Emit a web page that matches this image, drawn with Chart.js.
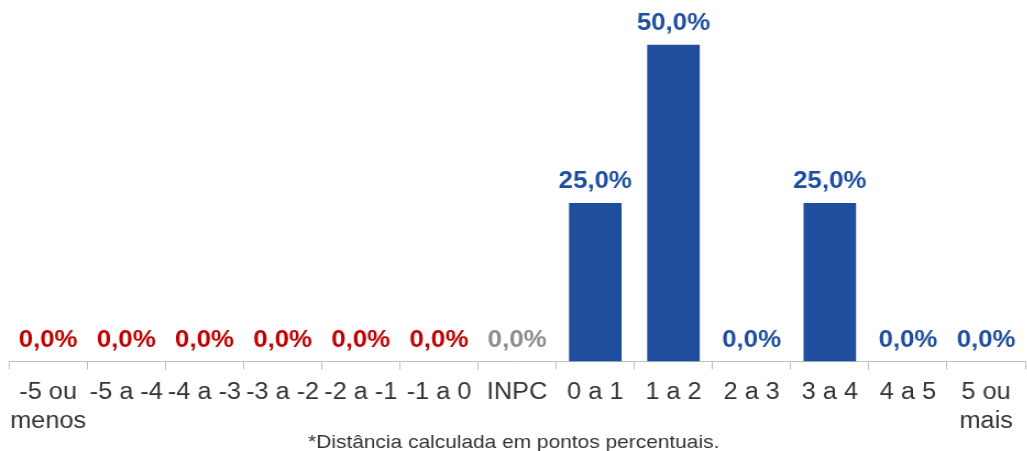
<!DOCTYPE html>
<html>
<head>
<meta charset="utf-8">
<script src="https://cdn.jsdelivr.net/npm/chart.js@4/dist/chart.umd.min.js"></script>
<style>
  html, body { margin: 0; padding: 0; background: #fff; overflow: hidden; }
  /* the source picture is a little wider than tall, so stretch horizontally */
  #wrap { width: 934px; height: 451px; transform: scaleX(1.1); transform-origin: 0 0; }
</style>
</head>
<body>
<div id="wrap"><canvas id="chart"></canvas></div>
<script>
const categories = [['-5 ou', 'menos'], '-5 a -4', '-4 a -3', '-3 a -2', '-2 a -1', '-1 a 0', 'INPC',
  '0 a 1', '1 a 2', '2 a 3', '3 a 4', '4 a 5', ['5 ou', 'mais']];
const shares = [0, 0, 0, 0, 0, 0, 0, 25, 50, 0, 25, 0, 0];
const footnote = '*Distância calculada em pontos percentuais.';

const BLUE = '#1F4E9E';
const RED = '#C00000';
const GREY = '#8C8C8C';
const FONT = '"Liberation Sans", Arial, sans-serif';
const inpcIndex = categories.indexOf('INPC');

function labelColor(i) {
  if (i < inpcIndex) return RED;
  if (i === inpcIndex) return GREY;
  return BLUE;
}

function fmt(v) {
  return v.toFixed(1).replace('.', ',') + '%';
}

// value labels above every bar, plus the footnote under the axis
const valueLabels = {
  id: 'valueLabels',
  afterDatasetsDraw(chart) {
    const ctx = chart.ctx;
    const meta = chart.getDatasetMeta(0);
    ctx.save();
    ctx.font = 'bold 23.5px ' + FONT;
    ctx.textAlign = 'center';
    ctx.textBaseline = 'alphabetic';
    meta.data.forEach((bar, i) => {
      ctx.fillStyle = labelColor(i);
      ctx.fillText(fmt(shares[i]), bar.x, bar.y - 15);
    });
    ctx.restore();
  },
  afterDraw(chart) {
    const ctx = chart.ctx;
    ctx.save();
    ctx.font = '19px ' + FONT;
    ctx.fillStyle = '#333333';
    ctx.textAlign = 'center';
    ctx.textBaseline = 'alphabetic';
    ctx.fillText(footnote, chart.width / 2, 448);
    ctx.restore();
  }
};

new Chart(document.getElementById('chart'), {
  type: 'bar',
  data: {
    labels: categories,
    datasets: [{
      data: shares,
      backgroundColor: BLUE,
      barPercentage: 0.672,
      categoryPercentage: 1,
    }],
  },
  options: {
    responsive: true,
    maintainAspectRatio: false,
    animation: false,
    layout: { padding: { top: 44.5, left: 5.5, right: 2, bottom: 0 } },
    plugins: {
      legend: { display: false },
      tooltip: { enabled: false },
    },
    scales: {
      x: {
        afterFit(scale) { scale.height = 89.5; },
        grid: {
          display: true,
          drawOnChartArea: false,
          drawTicks: true,
          tickLength: 8,
          color: '#BFBFBF',
          offset: true,
        },
        border: { display: true, color: '#BFBFBF', width: 1 },
        ticks: {
          autoSkip: false,
          maxRotation: 0,
          minRotation: 0,
          padding: 9,
          color: '#333333',
          font: { family: FONT, size: 23, lineHeight: 1.26 },
        },
      },
      y: {
        display: false,
        min: 0,
        max: 50,
      },
    },
  },
  plugins: [valueLabels],
});
</script>
</body>
</html>
